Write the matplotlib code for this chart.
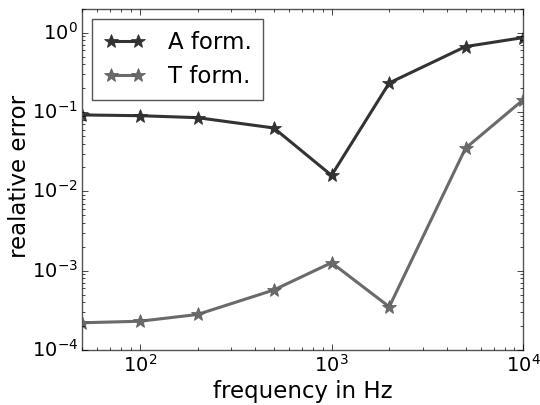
import matplotlib
matplotlib.use("Agg")
import matplotlib.pyplot as plt

plt.style.use("classic")

freq = [50, 100, 200, 500, 1000, 2000, 5000, 10000]
err_a = [0.092, 0.090, 0.085, 0.063, 0.0159, 0.233, 0.67, 0.87]
err_t = [2.2e-4, 2.3e-4, 2.8e-4, 5.7e-4, 1.26e-3, 3.5e-4, 0.035, 0.143]
labels = ["A form.", "T form."]

fig = plt.figure(figsize=(5.4, 4.05), dpi=100, facecolor="white")
ax = fig.add_axes([0.152, 0.136, 0.817, 0.842])

ax.loglog(freq, err_a, "-*", color="#333333", lw=2.2, ms=10, mec="#2a2a2a", label=labels[0])
ax.loglog(freq, err_t, "-*", color="#6a6a6a", lw=2.2, ms=10, mec="#5a5a5a", label=labels[1])

ax.set_xlim(50, 1e4)
ax.set_ylim(1e-4, 2)
ax.tick_params(which="both", labelsize=14, pad=3)
for s in ax.spines.values():
    s.set_color("#555555")

fig.text(0.5 * (0.152 + 0.969), 0.017, "frequency in Hz", fontsize=16.5,
         ha="center", va="baseline")
fig.text(0.037, 0.565, "realative error", fontsize=16.5,
         rotation=90, ha="center", va="center")

leg = ax.legend(loc="upper left", fontsize=16.5, numpoints=2, frameon=True,
                handlelength=1.8, borderaxespad=0.45, borderpad=0.5,
                handletextpad=1.0)
leg.get_frame().set_edgecolor("#555555")

fig.savefig("out.png", dpi=100, facecolor="white")
